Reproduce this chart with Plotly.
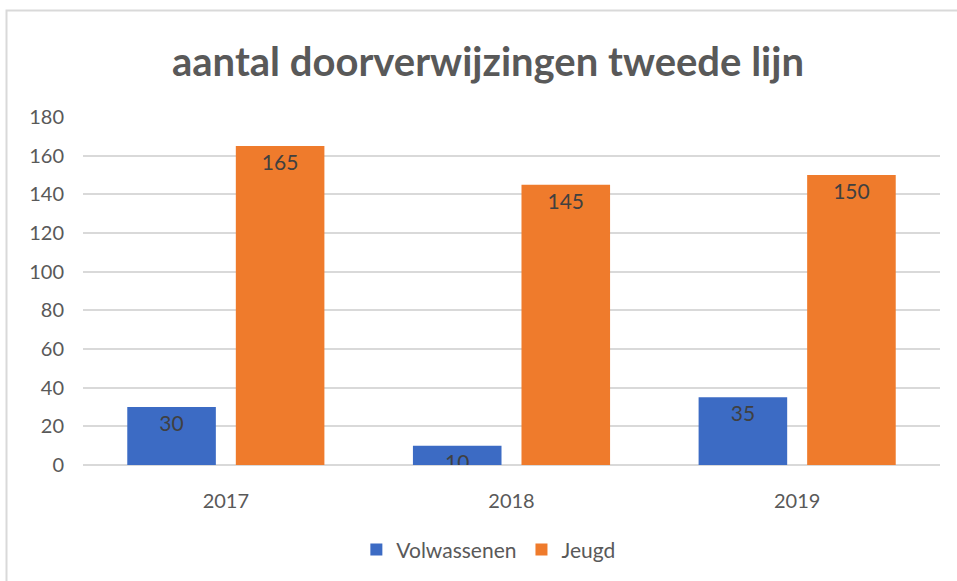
import plotly.graph_objects as go

years = ["2017", "2018", "2019"]
volwassenen = [30, 10, 35]
jeugd = [165, 145, 150]
series_names = ["Volwassenen", "Jeugd"]
y_ticks = [0, 20, 40, 60, 80, 100, 120, 140, 160, 180]
title_text = "aantal doorverwijzingen tweede lijn"

BLUE = "#3c6bc4"
ORANGE = "#ef7b2c"
GRID = "#d9d9d9"
TXT = "#595959"
FONT = "Lato, Open Sans, sans-serif"

W, H = 957, 581
ML, MR, MT, MB = 83, 17, 117, 116
BARGAP, GROUPGAP = 0.24, 0.184

fig = go.Figure()
for name, vals, col in ((series_names[0], volwassenen, BLUE), (series_names[1], jeugd, ORANGE)):
    fig.add_trace(go.Bar(
        name=name, x=years, y=vals, text=vals, textposition="inside",
        insidetextanchor="end", constraintext="none", textangle=0,
        insidetextfont=dict(family=FONT, size=21, color="#404040"),
        marker=dict(color=col, line=dict(width=0))))

plot_w = W - ML - MR
fig.update_layout(
    width=W, height=H,
    margin=dict(l=ML, r=MR, t=MT, b=MB, pad=0, autoexpand=False),
    paper_bgcolor="white", plot_bgcolor="white",
    barmode="group", bargap=BARGAP, bargroupgap=GROUPGAP,
    title=dict(text=title_text, x=488 / W, xref="container", xanchor="center",
               y=1 - 62 / H, yref="container", yanchor="middle",
               font=dict(family=FONT, size=40, color=TXT, weight="bold")),
    font=dict(family=FONT, color=TXT),
    showlegend=True,
    legend=dict(orientation="h", x=0.473, xanchor="center", y=-0.244, yanchor="middle",
                font=dict(family=FONT, size=21, color=TXT),
                bgcolor="rgba(0,0,0,0)", traceorder="normal"),
    xaxis=dict(type="category", showline=False, showgrid=False, ticks="",
               ticklabelstandoff=22, automargin=False,
               tickfont=dict(family=FONT, size=20, color=TXT)),
    yaxis=dict(range=[0, 180], tickvals=y_ticks, showgrid=True, gridcolor=GRID, gridwidth=1.5,
               zeroline=True, zerolinecolor=GRID, zerolinewidth=1.5, showline=False,
               ticks="", ticklabelstandoff=18, automargin=False,
               tickfont=dict(family=FONT, size=20, color=TXT)),
    shapes=[dict(type="rect", xref="paper", yref="paper",
                 x0=(6.5 - ML) / plot_w, x1=1.2,
                 y0=-1.0, y1=(H - MB - 10.5) / (H - MT - MB),
                 line=dict(color=GRID, width=2), fillcolor="rgba(0,0,0,0)", layer="below")],
)

fig.write_html("out.html", config={"displayModeBar": False},
               post_script="document.body.style.margin='0';")
